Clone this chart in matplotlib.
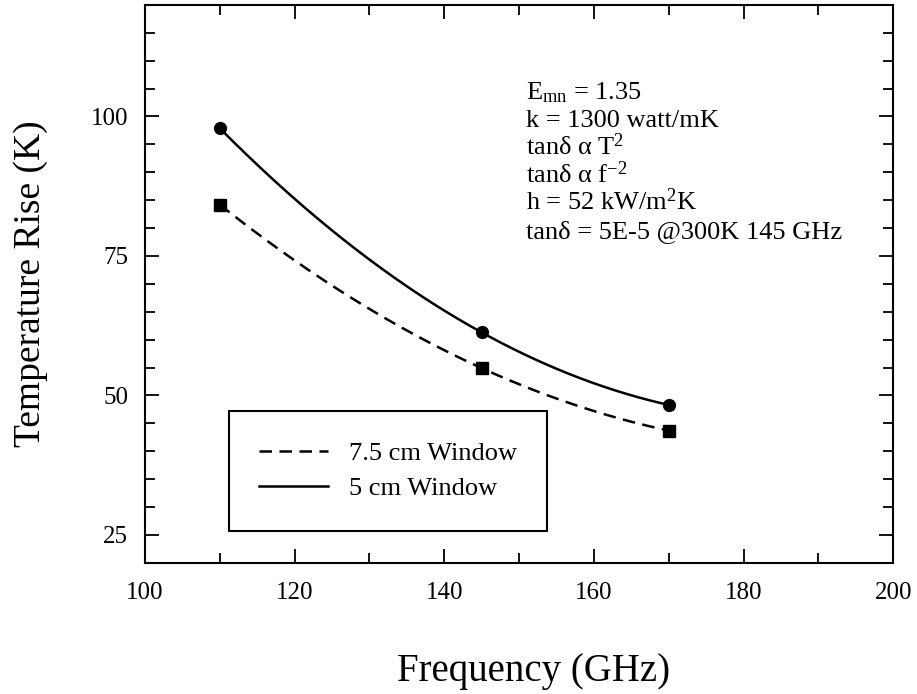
import numpy as np
import matplotlib
matplotlib.use("Agg")
import matplotlib.pyplot as plt
from matplotlib.ticker import MultipleLocator

plt.rcParams['font.family'] = ['Liberation Serif', 'DejaVu Serif']
plt.rcParams['mathtext.fontset'] = 'custom'
plt.rcParams['mathtext.rm'] = 'Liberation Serif'
plt.rcParams['mathtext.it'] = 'Liberation Serif:italic'

# data
freq = [110, 145, 170]
rise_5cm = [97.9, 61.3, 48.3]
rise_75cm = [84.2, 54.9, 43.7]

notes = [
    r"E$_{\mathrm{mn}}$ = 1.35",
    "k = 1300 watt/mK",
    r"tanδ α T$^{2}$",
    r"tanδ α f$^{\mathrm{-2}}$",
    r"h = 52 kW/m$^{2}$K",
    "tanδ = 5E-5 @300K 145 GHz",
]

fig = plt.figure(figsize=(9.17, 6.94), dpi=100)
ax = fig.add_axes([0.158, 0.189, 0.816, 0.804])

# smooth line through the three points (quadratic), markers at the data
xs = np.linspace(freq[0], freq[-1], 200)
for y, ls, mk, lab in [(rise_75cm, '--', 's', '7.5 cm Window'),
                       (rise_5cm, '-', 'o', '5 cm Window')]:
    c = np.polyfit(freq, y, 2)
    line, = ax.plot(xs, np.polyval(c, xs), color='black', lw=1.8, ls=ls, label=lab)
    if ls == '--':
        line.set_dashes((5, 3))
    ax.plot(freq, y, ls='none', marker=mk, color='black', ms=8.5)

ax.set_xlim(100, 200)
ax.set_ylim(20, 120)
ax.set_xticks([100, 120, 140, 160, 180, 200])
ax.set_yticks([25, 50, 75, 100])
ax.xaxis.set_minor_locator(MultipleLocator(10))
ax.yaxis.set_minor_locator(MultipleLocator(5))
ax.tick_params(which='both', direction='in', top=True, right=True, width=1.3, labelsize=18)
ax.tick_params(which='major', length=10)
ax.tick_params(which='minor', length=7)
ax.tick_params(axis='x', pad=14)
ax.tick_params(axis='y', pad=12)
for s in ax.spines.values():
    s.set_linewidth(1.5)

ax.set_xlabel("Frequency (GHz)", fontsize=28)
ax.set_ylabel("Temperature Rise (K)", fontsize=27)
ax.xaxis.set_label_coords(0.519, -0.195)
ax.xaxis.label.set_va('center')
ax.yaxis.set_label_coords(-0.152, 0.5)
ax.yaxis.label.set_va('center')

y0 = 103.0
for i, t in enumerate(notes):
    ax.text(150.9, y0 - i * 4.95, t, fontsize=19, va='baseline', ha='left')

leg = ax.legend(loc='upper left', bbox_to_anchor=(0.112, 0.272), borderaxespad=0,
                fontsize=19, handlelength=2.6, handletextpad=0.8, borderpad=1.15,
                labelspacing=0.45, fancybox=False, framealpha=1, edgecolor='black')
leg.get_frame().set_linewidth(1.5)

fig.savefig("out.png", dpi=100)
